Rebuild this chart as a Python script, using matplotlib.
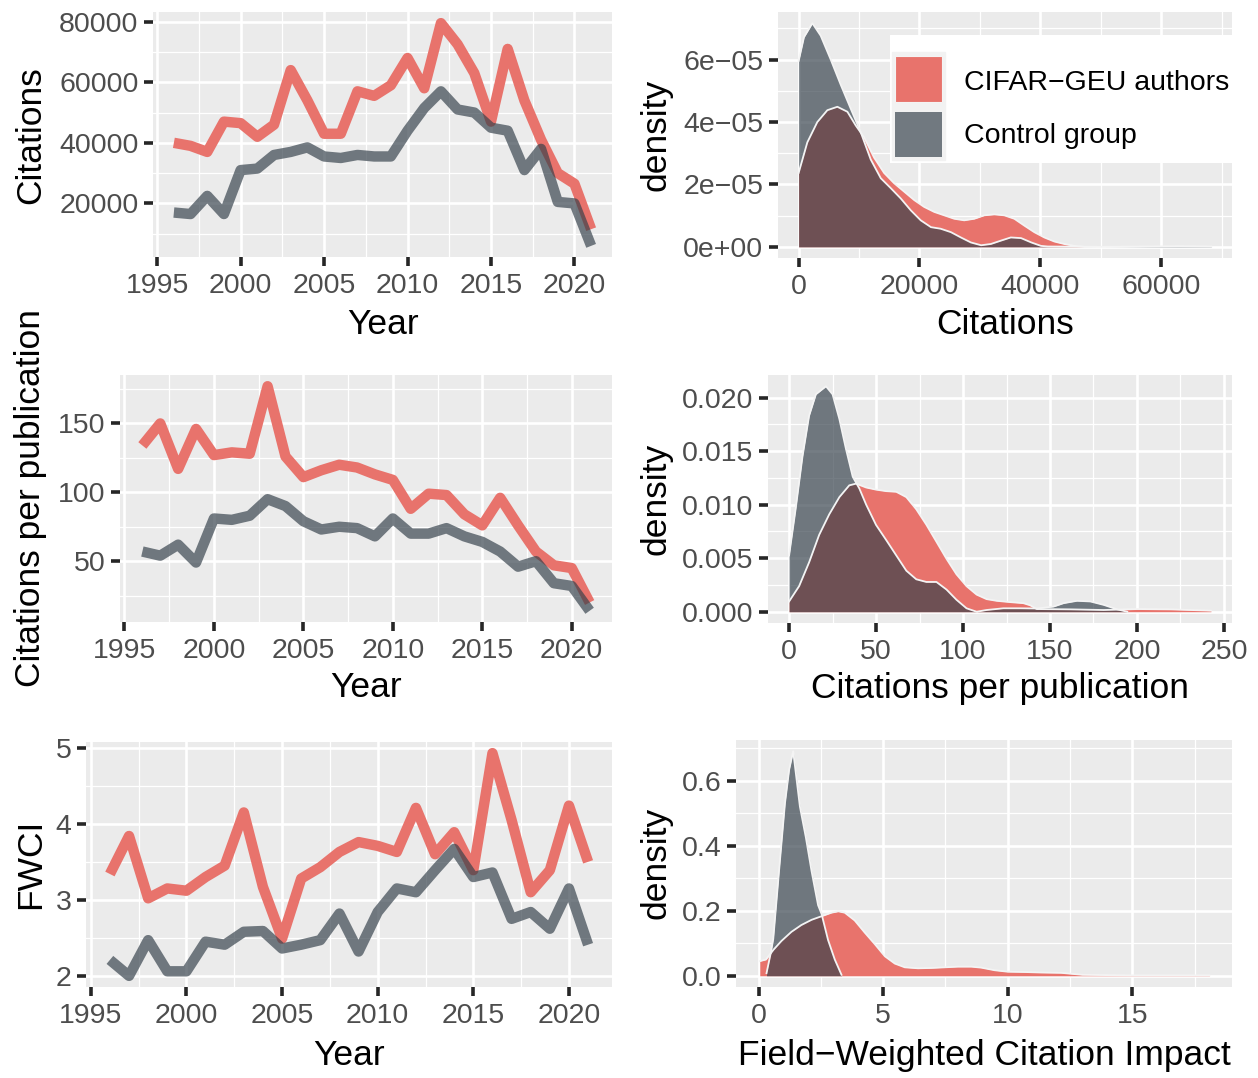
import numpy as np
import matplotlib
matplotlib.use("Agg")
import matplotlib.pyplot as plt
from matplotlib.patches import Rectangle

plt.rcParams["font.family"] = ["Liberation Sans", "DejaVu Sans"]

# ---- yearly series -------------------------------------------------------- #
YEARS = list(range(1996, 2022))
CIT_CIFAR = [40000, 39000, 37000, 47000, 46500, 42000, 46000, 64000, 54000, 43000,
             43000, 57000, 55500, 59000, 68000, 58000, 79500, 72500, 63000, 47000,
             71000, 54000, 41000, 30000, 26500, 11500]
CIT_CONTROL = [17000, 16500, 22500, 16500, 31000, 31500, 36000, 37000, 38500, 35500,
               35000, 36000, 35500, 35500, 44000, 51500, 57000, 51000, 50000, 45000,
               44000, 31000, 38000, 20500, 20000, 6000]
CPP_CIFAR = [134, 150, 117, 146, 127, 129, 128, 177, 126, 111, 116, 120, 118, 113,
             109, 88, 99, 98, 84, 76, 96, 76, 57, 47, 45, 20]
CPP_CONTROL = [57, 54, 62, 49, 81, 80, 83, 95, 90, 79, 73, 75, 74, 68, 81, 70, 70,
               74, 68, 64, 57, 46, 50, 34, 32, 14]
FWCI_CIFAR = [3.34, 3.84, 3.02, 3.15, 3.12, 3.30, 3.45, 4.15, 3.17, 2.49, 3.28, 3.43,
              3.63, 3.76, 3.71, 3.63, 4.21, 3.60, 3.89, 3.39, 4.93, 4.05, 3.10, 3.39,
              4.24, 3.50]
FWCI_CONTROL = [2.21, 2.00, 2.47, 2.06, 2.06, 2.45, 2.41, 2.58, 2.59, 2.36, 2.41, 2.47,
                2.82, 2.32, 2.84, 3.15, 3.10, 3.39, 3.67, 3.30, 3.36, 2.75, 2.84, 2.62,
                3.15, 2.41]

# ---- density curves ------------------------------------------------------ #
# citations, density in units of 1e-5
DC_CTRL_X = [0, 880, 2270, 3650, 5300, 6960, 8620, 10280, 11930, 13590, 15250, 16900,
             18560, 20200, 21900, 23500, 25200, 26850, 28500, 30200, 31800, 33500,
             35100, 36800, 38500, 40100, 41200, 50000, 58000, 63000, 68300]
DC_CTRL_Y = [5.96, 6.72, 7.17, 6.77, 6.01, 5.20, 4.43, 3.67, 2.80, 2.20, 1.88, 1.55,
             1.17, 0.85, 0.63, 0.58, 0.47, 0.30, 0.14, 0.05, 0.09, 0.20, 0.30, 0.28,
             0.14, 0.03, 0.01, 0.0, 0.01, 0.02, 0.01]
DC_CIFAR_X = [0, 1440, 3090, 4750, 6410, 8070, 9450, 10830, 12490, 14140, 15800, 17460,
              19120, 20770, 22430, 24090, 25750, 27400, 29060, 30720, 32380, 34030,
              35690, 37350, 39000, 40660, 42320, 43980, 45640, 47290]
DC_CIFAR_Y = [2.37, 3.35, 4.00, 4.38, 4.49, 4.33, 3.89, 3.51, 2.86, 2.37, 2.04, 1.77,
              1.50, 1.28, 1.12, 1.01, 0.90, 0.85, 0.90, 1.01, 1.04, 1.01, 0.90, 0.68,
              0.47, 0.30, 0.17, 0.09, 0.03, 0.0]

# citations per publication, density in units of 1e-3
DP_CTRL_X = [0, 3.85, 7.7, 11.5, 15.4, 21.2, 25.0, 28.9, 32.7, 36.6, 40.4, 44.3, 50.0,
             55.8, 61.6, 67.4, 73.1, 78.9, 84.7, 90.5, 96.2, 102.0, 107.8, 113.5, 123.2,
             132.8, 142.4, 152.0, 157.8, 165.5, 173.2, 180.9, 188.6, 194.4]
DP_CTRL_Y = [5.26, 9.7, 14.5, 18.3, 20.3, 21.05, 20.3, 18.0, 15.2, 12.6, 11.5, 10.0,
             8.1, 6.7, 5.26, 3.83, 3.03, 2.78, 2.78, 2.07, 1.12, 0.32, 0.0, 0.16, 0.32,
             0.32, 0.30, 0.48, 0.80, 1.02, 0.96, 0.64, 0.22, 0.0]
DP_CIFAR_X = [0, 5.77, 11.55, 17.3, 23.1, 28.9, 34.6, 38.5, 44.3, 50.0, 55.8, 61.6,
              67.4, 73.1, 78.9, 84.7, 90.5, 96.2, 102.0, 107.8, 113.5, 119.3, 127.0,
              134.7, 138.6, 142.4, 161.7, 180.9, 200.2, 219.4, 242.5]
DP_CIFAR_Y = [0.96, 2.39, 4.63, 7.18, 9.1, 10.7, 11.8, 11.96, 11.6, 11.4, 11.26, 11.2,
              10.7, 9.57, 8.13, 6.54, 4.94, 3.5, 2.39, 1.6, 1.18, 1.02, 0.9, 0.8, 0.6,
              0.25, 0.22, 0.16, 0.25, 0.22, 0.1]

# field-weighted citation impact
DF_CTRL_X = [0.32, 0.49, 0.59, 0.82, 1.06, 1.23, 1.39, 1.66, 1.90, 2.13, 2.39, 2.53,
             2.79, 3.06, 3.33]
DF_CTRL_Y = [0.008, 0.07, 0.113, 0.32, 0.53, 0.634, 0.69, 0.52, 0.425, 0.321, 0.217,
             0.19, 0.11, 0.05, 0.003]
DF_CIFAR_X = [0.05, 0.3, 0.6, 0.92, 1.32, 1.72, 2.13, 2.53, 2.93, 3.2, 3.46, 3.86, 4.26,
              4.67, 5.07, 5.47, 5.87, 6.4, 6.94, 7.47, 8.0, 8.54, 8.94, 9.48, 10.0, 10.7,
              11.35, 12.15, 13.0, 15.0, 18.1]
DF_CIFAR_Y = [0.045, 0.05, 0.08, 0.107, 0.135, 0.156, 0.172, 0.183, 0.194, 0.198, 0.194,
              0.17, 0.133, 0.097, 0.06, 0.0375, 0.026, 0.023, 0.024, 0.026, 0.028, 0.028,
              0.025, 0.017, 0.0125, 0.0115, 0.01, 0.009, 0.003, 0.001, 0.001]

GROUPS = ["CIFAR\u2212GEU authors", "Control group"]

RED = "#E8736C"
DARK = "#34404A"
DARK_ALPHA = 0.68
OUTLINE = "#F4F4F4"
PANEL = "#EBEBEB"
TICK_FS = 20.5
TITLE_FS = 25.5

W, H = 1258, 1078
fig = plt.figure(figsize=(W / 100, H / 100), dpi=100)


def box(l, t, r, b):
    return [l / W, 1 - b / H, (r - l) / W, (b - t) / H]


def expand(lo, hi, f=0.05):
    d = (hi - lo) * f
    return lo - d, hi + d


def minors(major, lim):
    step = major[1] - major[0]
    cand = [major[0] - step / 2] + [m + step / 2 for m in major]
    return [c for c in cand if lim[0] <= c <= lim[1]]


def panel(rect, xlim, ylim, xt, yt, xl=None, yl=None):
    ax = fig.add_axes(box(*rect))
    ax.set_facecolor(PANEL)
    ax.set_xlim(*xlim)
    ax.set_ylim(*ylim)
    ax.set_xticks(xt, labels=xl if xl else [str(v) for v in xt])
    ax.set_yticks(yt, labels=yl if yl else [str(v) for v in yt])
    ax.set_xticks(minors(xt, xlim), minor=True)
    ax.set_yticks(minors(yt, ylim), minor=True)
    ax.grid(True, which="major", color="white", linewidth=1.9)
    ax.grid(True, which="minor", color="white", linewidth=0.9)
    ax.set_axisbelow(True)
    for s in ax.spines.values():
        s.set_visible(False)
    ax.tick_params(which="major", length=6.5, width=2.6, color="#262626",
                   labelsize=TICK_FS, labelcolor="#4D4D4D")
    ax.tick_params(axis="x", which="major", pad=5)
    ax.tick_params(axis="y", which="major", pad=4)
    ax.tick_params(which="minor", length=0)
    return ax


def lines(ax, red, grey):
    ax.plot(YEARS, red, color=RED, lw=7.5, solid_capstyle="butt", solid_joinstyle="round")
    ax.plot(YEARS, grey, color=DARK, alpha=DARK_ALPHA, lw=7.5,
            solid_capstyle="butt", solid_joinstyle="round")


def densities(ax, rx, ry, gx, gy):
    ax.fill_between(rx, 0, ry, color=RED, lw=0)
    ax.plot(rx, ry, color=OUTLINE, lw=1.3)
    ax.fill_between(gx, 0, gy, color=DARK, alpha=DARK_ALPHA, lw=0)
    ax.plot(gx, gy, color=OUTLINE, lw=1.3)


def ylabel(x, y, s):
    fig.text(x / W, 1 - y / H, s, rotation=90, rotation_mode="anchor",
             ha="center", va="baseline", fontsize=TITLE_FS)


def xlabel(x, y, s):
    fig.text(x / W, 1 - y / H, s, ha="center", va="baseline", fontsize=TITLE_FS)


yr_lim = expand(YEARS[0], YEARS[-1])
yr_ticks = [1995, 2000, 2005, 2010, 2015, 2020]

# ---- row 1: citations ---------------------------------------------------- #
ax1 = panel((153, 12, 612, 257), yr_lim,
            expand(min(CIT_CONTROL + CIT_CIFAR), max(CIT_CONTROL + CIT_CIFAR)),
            yr_ticks, [20000, 40000, 60000, 80000])
lines(ax1, CIT_CIFAR, CIT_CONTROL)
ylabel(40, 135, "Citations")
xlabel(383, 334, "Year")

cx_r = np.array(DC_CIFAR_X)
cy_r = np.array(DC_CIFAR_Y) * 1e-5
cx_g = np.array(DC_CTRL_X)
cy_g = np.array(DC_CTRL_Y) * 1e-5
ax2 = panel((778, 12, 1232, 258), expand(0, max(cx_g.max(), cx_r.max())),
            expand(0, max(cy_g.max(), cy_r.max())),
            [0, 20000, 40000, 60000], [0, 2e-5, 4e-5, 6e-5],
            yl=["0e+00", "2e\u221205", "4e\u221205", "6e\u221205"])
densities(ax2, cx_r, cy_r, cx_g, cy_g)
ylabel(666, 135, "density")
xlabel(1005, 334, "Citations")

# ---- row 2: citations per publication ------------------------------------ #
ax3 = panel((120, 375, 612, 622), yr_lim,
            expand(min(CPP_CONTROL + CPP_CIFAR), max(CPP_CONTROL + CPP_CIFAR)),
            yr_ticks, [50, 100, 150])
lines(ax3, CPP_CIFAR, CPP_CONTROL)
ylabel(40, 498, "Citations per publication")
xlabel(366, 697, "Year")

px_r = np.array(DP_CIFAR_X)
py_r = np.array(DP_CIFAR_Y) * 1e-3
px_g = np.array(DP_CTRL_X)
py_g = np.array(DP_CTRL_Y) * 1e-3
ax4 = panel((768, 375, 1232, 623), expand(0, max(px_g.max(), px_r.max())),
            expand(0, max(py_g.max(), py_r.max())),
            [0, 50, 100, 150, 200, 250], [0, 0.005, 0.010, 0.015, 0.020],
            yl=["0.000", "0.005", "0.010", "0.015", "0.020"])
densities(ax4, px_r, py_r, px_g, py_g)
ylabel(666, 499, "density")
xlabel(1000, 698, "Citations per publication")

# ---- row 3: FWCI --------------------------------------------------------- #
ax5 = panel((86, 742, 612, 987), yr_lim,
            expand(min(FWCI_CONTROL + FWCI_CIFAR), max(FWCI_CONTROL + FWCI_CIFAR)),
            yr_ticks, [2, 3, 4, 5])
lines(ax5, FWCI_CIFAR, FWCI_CONTROL)
ylabel(40, 864, "FWCI")
xlabel(349, 1065, "Year")

ax6 = panel((736, 740, 1232, 987), expand(0, max(DF_CIFAR_X + DF_CTRL_X)),
            expand(0, max(DF_CIFAR_Y + DF_CTRL_Y)),
            [0, 5, 10, 15], [0, 0.2, 0.4, 0.6],
            yl=["0.0", "0.2", "0.4", "0.6"])
densities(ax6, DF_CIFAR_X, DF_CIFAR_Y, DF_CTRL_X, DF_CTRL_Y)
ylabel(666, 863, "density")
xlabel(984, 1065, "Field\u2212Weighted Citation Impact")

# ---- legend drawn inside the top-right panel ----------------------------- #
leg = fig.add_axes(box(890, 35, 1236, 163), zorder=5)
leg.set_xlim(890, 1236)
leg.set_ylim(163, 35)
leg.axis("off")
leg.add_patch(Rectangle((890, 35), 346, 128, color="white", zorder=0))
leg.add_patch(Rectangle((892, 52), 53, 108, color="#F2F2F2", zorder=1))
leg.add_patch(Rectangle((895, 56), 47, 46, facecolor=RED, edgecolor=OUTLINE, lw=0.8, zorder=2))
leg.add_patch(Rectangle((895, 112), 47, 45, facecolor=DARK, alpha=DARK_ALPHA,
                        edgecolor="none", zorder=2))
leg.text(964, 90, GROUPS[0], fontsize=20.5, va="baseline", ha="left")
leg.text(964, 143, GROUPS[1], fontsize=20.5, va="baseline", ha="left")

fig.savefig("out.png", dpi=100, facecolor="white")
